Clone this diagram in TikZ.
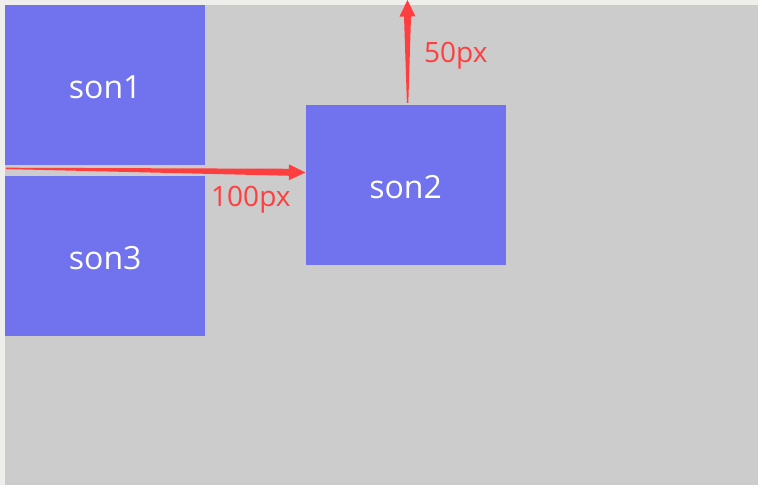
\documentclass[tikz,border=0pt]{standalone}
\usepackage{fontspec}
\setmainfont{Open Sans}
\usepackage{tikz}
\usetikzlibrary{positioning,calc}

\definecolor{pageedge}{HTML}{EEEFEA}
\definecolor{parentgray}{HTML}{CCCCCC}
\definecolor{sonblue}{HTML}{7072EE}
\definecolor{arrowred}{HTML}{FF3F3F}

\tikzset{
  son/.style={fill=sonblue, text=white, minimum width=200bp, minimum height=160bp,
    inner sep=0pt, text height=26.8bp, text depth=0pt, font=\fontsize{32bp}{38bp}\selectfont},
  gap/.style={text=arrowred, font=\fontsize{28bp}{34bp}\selectfont, inner sep=0pt, anchor=base west}
}

% tapered red arrow, from #1 to tip #2
\newcommand{\taperarrow}[2]{%
  \coordinate (hb) at ($(#2)!16.5bp!(#1)$);
  \fill[arrowred] ($(#1)!0.7bp!90:(#2)$) -- ($(hb)!3.5bp!90:(#2)$)
    -- ($(hb)!8bp!90:(#2)$) -- (#2) -- ($(hb)!8bp!-90:(#2)$)
    -- ($(hb)!3.5bp!-90:(#2)$) -- ($(#1)!0.7bp!-90:(#2)$) -- cycle;}

\begin{document}
\begin{tikzpicture}[x=1bp, y=-1bp]
\useasboundingbox (0,0) rectangle (758,485);
\fill[pageedge] (0,0) rectangle (758,485);
\fill[parentgray] (5,5) rectangle (758,485);
%----------------------------------
\node[son, anchor=north west] (son1) at (5,5) {son1};
\node[son, below=10bp of son1] (son3) {son3};
\node[son, anchor=north west] (son2) at ([shift={(100,100)}]son1.north east) {son2};
%----------------------------------
\coordinate (leftstart) at ([shift={(1,3)}]son1.south west);
\coordinate (lefttip) at ([shift={(0,67.5)}]son2.north west);
\coordinate (upstart) at ([shift={(2,-2)}]son2.north);
\coordinate (uptip) at (407.5,0);
\taperarrow{leftstart}{lefttip}
\taperarrow{upstart}{uptip}
%----------------------------------
\node[gap] (leftgap) at (211,206.5) {100px};
\node[gap] (upgap) at (424,62.5) {50px};
\end{tikzpicture}
\end{document}
